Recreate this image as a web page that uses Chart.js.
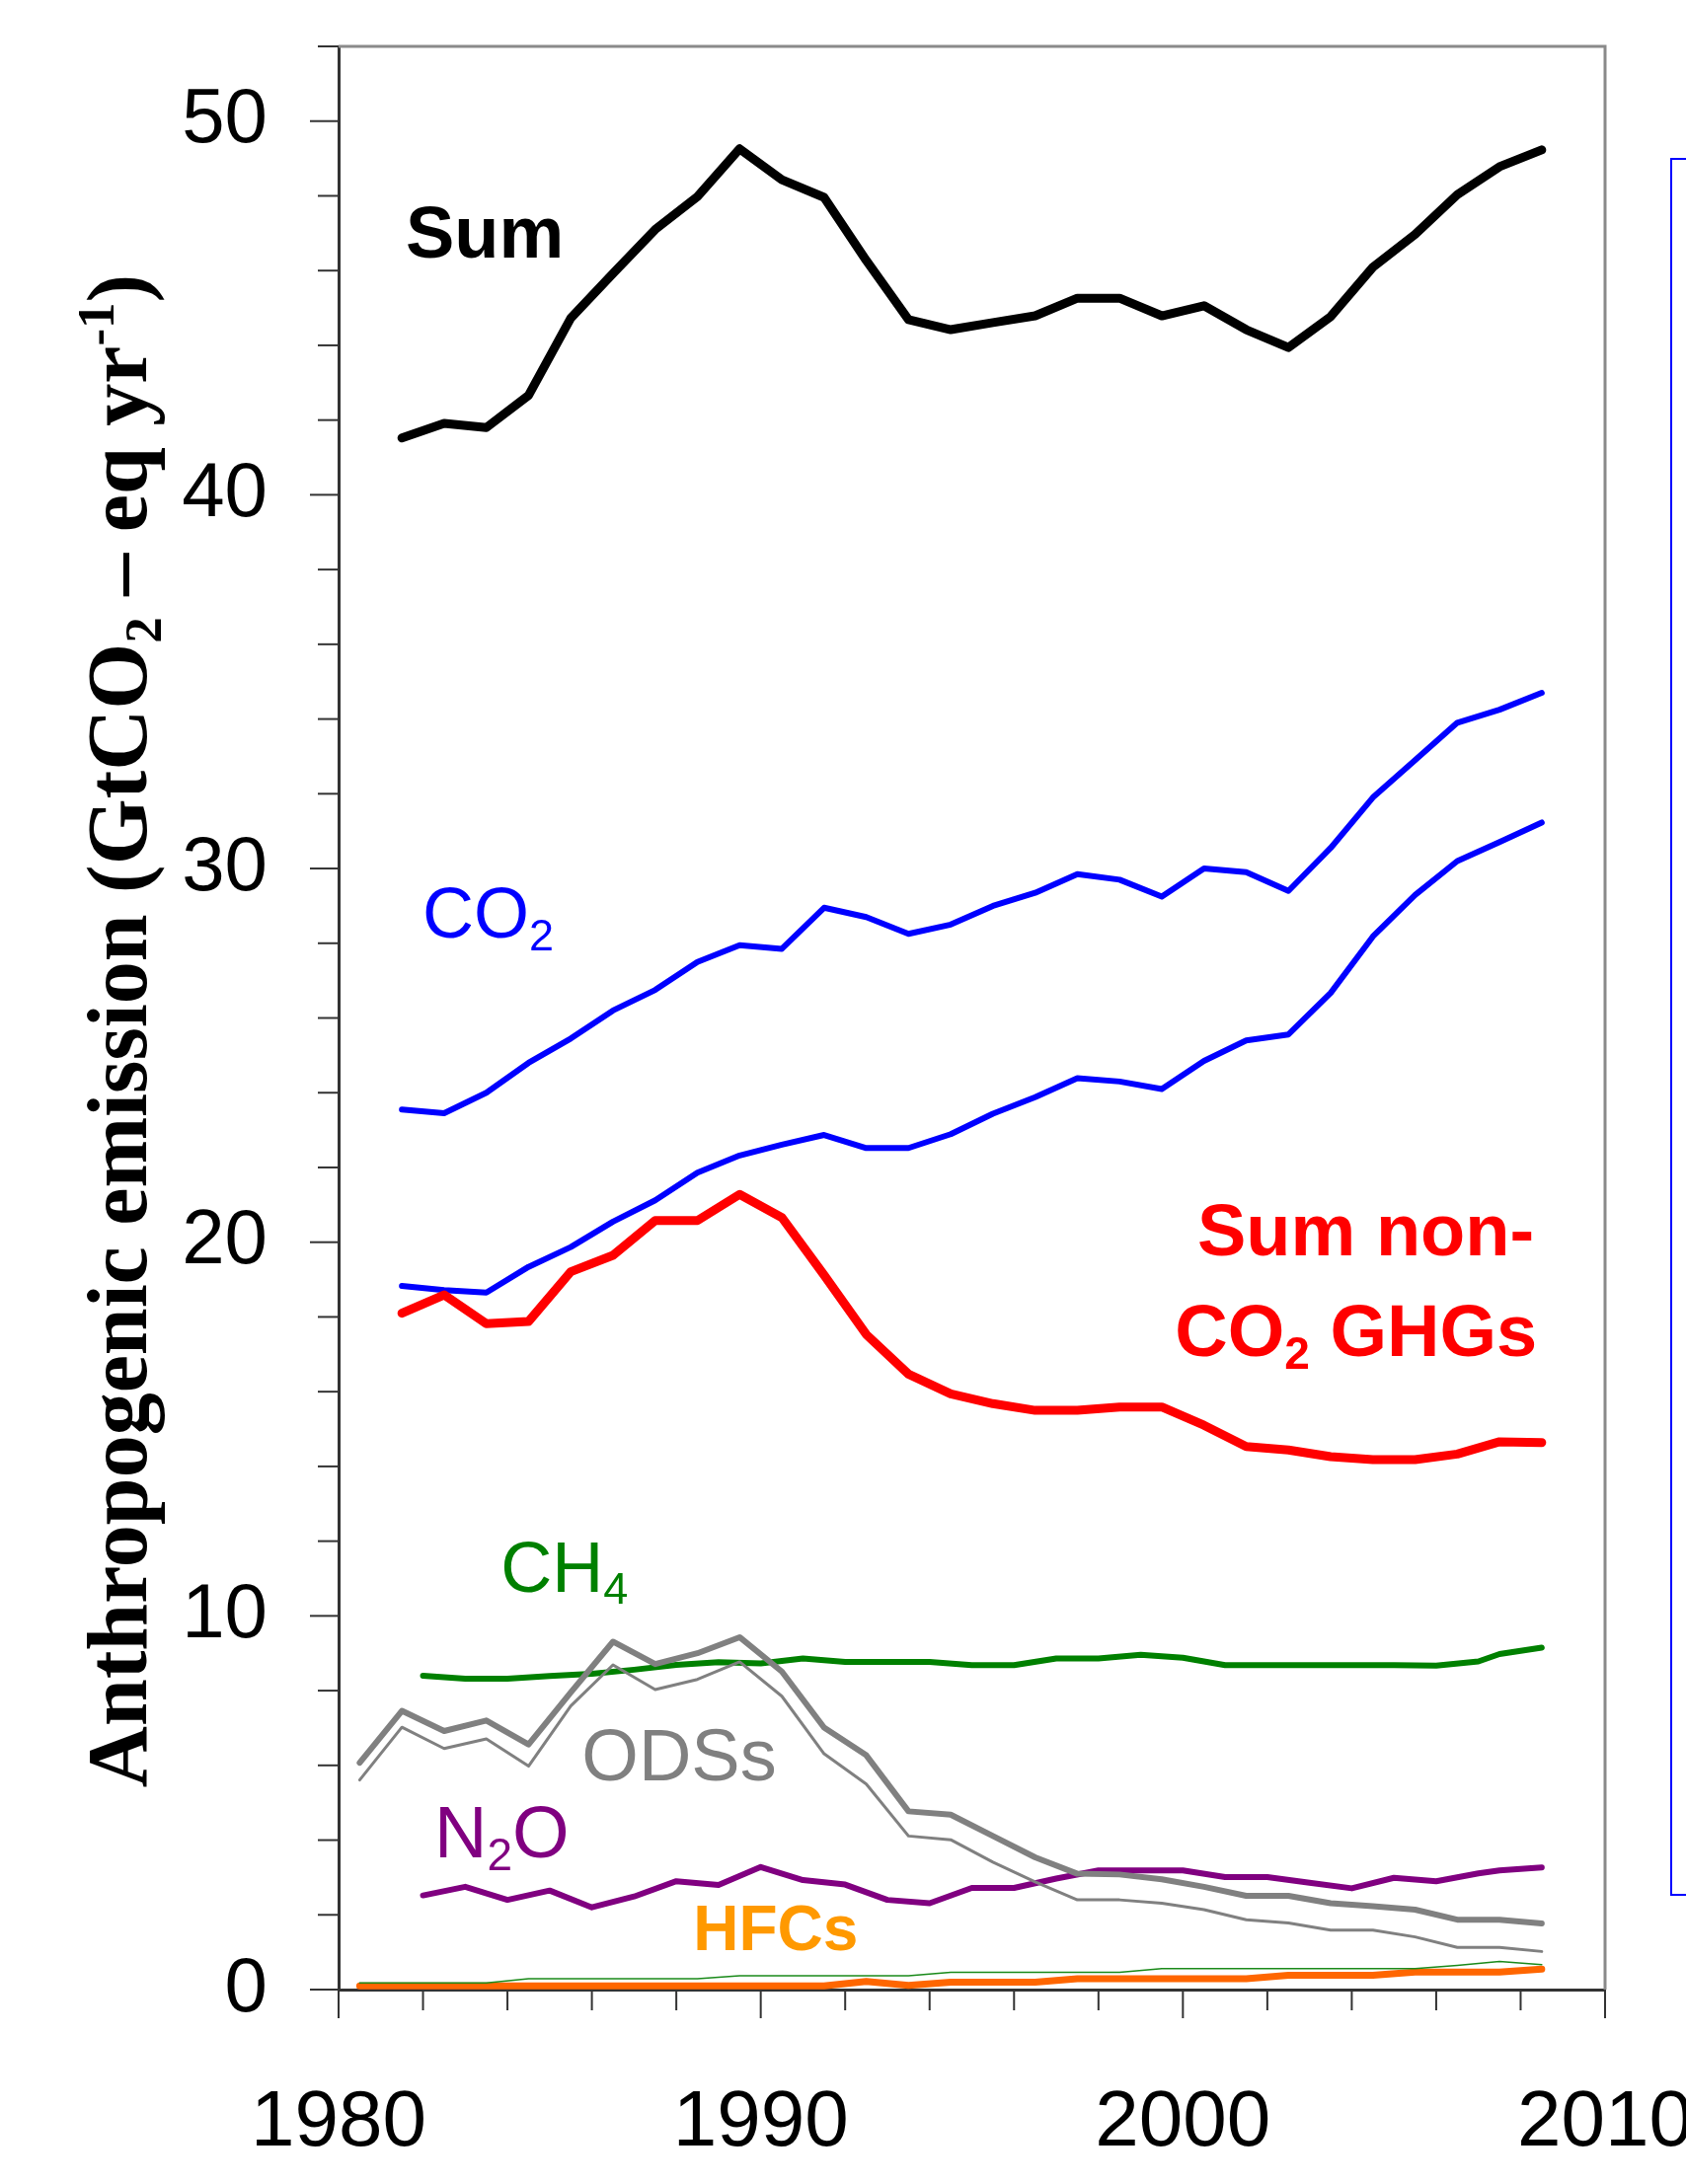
<!DOCTYPE html>
<html>
<head>
<meta charset="utf-8">
<title>Anthropogenic emission</title>
<script src="https://cdn.jsdelivr.net/npm/chart.js@4.4.1/dist/chart.umd.min.js"></script>
<style>
  html, body { margin: 0; padding: 0; background: #fff; }
  #wrap { position: relative; width: 1708px; height: 2213px; overflow: hidden; }
</style>
</head>
<body>
<div id="wrap"><canvas id="emissions" width="1708" height="2213"></canvas></div>
<script>
// x positions (years) of the three kinds of series
const halfYears = [1980.5, 1981.5, 1982.5, 1983.5, 1984.5, 1985.5, 1986.5, 1987.5, 1988.5, 1989.5,
                   1990.5, 1991.5, 1992.5, 1993.5, 1994.5, 1995.5, 1996.5, 1997.5, 1998.5, 1999.5,
                   2000.5, 2001.5, 2002.5, 2003.5, 2004.5, 2005.5, 2006.5, 2007.5, 2008.5];
const sumYears = [1981.5, 1982.5, 1983.5, 1984.5, 1985.5, 1986.5, 1987.5, 1988.5, 1989.5,
                  1990.5, 1991.5, 1992.5, 1993.5, 1994.5, 1995.5, 1996.5, 1997.5, 1998.5, 1999.5,
                  2000.5, 2001.5, 2002.5, 2003.5, 2004.5, 2005.5, 2006.5, 2007.5, 2008.5];
const ghgYears = [1982, 1983, 1984, 1985, 1986, 1987, 1988, 1989, 1990, 1991, 1992, 1993, 1994,
                  1995, 1996, 1997, 1998, 1999, 2000, 2001, 2002, 2003, 2004, 2005, 2006, 2007,
                  2007.5, 2008.5];

// GtCO2-eq per year
const sumTotal = [41.52, 41.91, 41.80, 42.66, 44.73, 45.92, 47.10, 47.98, 49.26, 48.43, 47.96, 46.27, 44.69, 44.42,
                  44.61, 44.79, 45.26, 45.26, 44.79, 45.06, 44.42, 43.94, 44.77, 46.09, 46.97, 48.03, 48.78, 49.23];
const co2Upper = [23.55, 23.45, 24.00, 24.80, 25.45, 26.20, 26.75, 27.50, 27.95, 27.85, 28.95, 28.70, 28.25, 28.50,
                  29.00, 29.35, 29.85, 29.70, 29.25, 30.00, 29.90, 29.40, 30.55, 31.90, 32.90, 33.90, 34.25, 34.70];
const co2Lower = [18.83, 18.72, 18.65, 19.34, 19.87, 20.55, 21.12, 21.86, 22.32, 22.61, 22.87, 22.52, 22.52, 22.89,
                  23.44, 23.88, 24.39, 24.30, 24.10, 24.85, 25.40, 25.56, 26.67, 28.18, 29.29, 30.20, 30.71, 31.23];
const nonCo2Sum = [18.10, 18.59, 17.82, 17.88, 19.21, 19.65, 20.58, 20.58, 21.28, 20.66, 19.12, 17.53, 16.47, 15.94,
                   15.68, 15.50, 15.50, 15.59, 15.59, 15.10, 14.53, 14.44, 14.26, 14.18, 14.18, 14.33, 14.66, 14.64];
const ch4 = [8.40, 8.32, 8.32, 8.39, 8.45, 8.56, 8.69, 8.76, 8.73, 8.86, 8.77, 8.77, 8.77, 8.68,
             8.68, 8.86, 8.86, 8.96, 8.88, 8.68, 8.68, 8.68, 8.68, 8.68, 8.67, 8.78, 8.98, 9.15];
const n2o = [2.52, 2.75, 2.40, 2.65, 2.20, 2.49, 2.90, 2.80, 3.28, 2.93, 2.81, 2.40, 2.31, 2.72,
             2.72, 2.97, 3.19, 3.19, 3.19, 3.01, 3.01, 2.86, 2.71, 2.99, 2.90, 3.11, 3.19, 3.27];
const odsThick = [6.07, 7.46, 6.92, 7.20, 6.56, 7.95, 9.31, 8.71, 9.00, 9.43, 8.51, 7.01, 6.27, 4.77, 4.68,
                  4.11, 3.54, 3.10, 3.08, 2.95, 2.75, 2.51, 2.51, 2.31, 2.23, 2.14, 1.87, 1.87, 1.77];
const odsThin = [5.61, 7.02, 6.45, 6.71, 5.98, 7.59, 8.69, 8.03, 8.30, 8.77, 7.85, 6.31, 5.50, 4.11, 4.01,
                 3.41, 2.88, 2.40, 2.40, 2.31, 2.14, 1.87, 1.78, 1.59, 1.59, 1.41, 1.13, 1.13, 1.02];
const hfcs = [0.10, 0.10, 0.10, 0.10, 0.10, 0.10, 0.10, 0.10, 0.10, 0.10, 0.10, 0.10, 0.22, 0.11, 0.20,
              0.20, 0.20, 0.29, 0.29, 0.29, 0.29, 0.29, 0.38, 0.38, 0.38, 0.47, 0.47, 0.47, 0.55];
const otherThin = [0.18, 0.18, 0.18, 0.18, 0.29, 0.29, 0.29, 0.29, 0.29, 0.37, 0.37, 0.37, 0.37, 0.37, 0.46,
                   0.46, 0.46, 0.46, 0.46, 0.56, 0.56, 0.56, 0.56, 0.56, 0.56, 0.56, 0.65, 0.75, 0.67];

const xTickLabels = [1980, 1990, 2000, 2010];
const yTickLabels = [0, 10, 20, 30, 40, 50];

function pts(xs, ys) {
    return xs.map((x, i) => ({ x: x, y: ys[i] }));
}

// text labels inside the plot, placed in data coordinates
const seriesLabels = [
    { parts: [['Sum']], x: 1981.59, y: 46.36, color: '#000000', bold: true, size: 74, align: 'left' },
    { parts: [['CO'], ['2', 'sub']], x: 1981.99, y: 28.14, color: '#0000ff', bold: false, size: 72, align: 'left' },
    { parts: [['Sum non-']], x: 2008.32, y: 19.64, color: '#ff0000', bold: true, size: 74, align: 'right' },
    { parts: [['CO'], ['2', 'sub'], [' GHGs']], x: 2008.39, y: 16.95, color: '#ff0000', bold: true, size: 74, align: 'right' },
    { parts: [['CH'], ['4', 'sub']], x: 1983.84, y: 10.64, color: '#008000', bold: false, size: 72, align: 'left' },
    { parts: [['ODSs']], x: 1985.76, y: 5.60, color: '#808080', bold: false, size: 74, align: 'left' },
    { parts: [['N'], ['2', 'sub'], ['O']], x: 1982.27, y: 3.54, color: '#800080', bold: false, size: 74, align: 'left' },
    { parts: [['HFCs']], x: 1988.40, y: 1.06, color: '#ff9900', bold: true, size: 64, align: 'left' }
];

function drawParts(ctx, parts, x, y, size, bold, family, align) {
    const small = Math.round(size * 0.62);
    const fontFor = (kind) => (bold ? 'bold ' : '') + (kind ? small : size) + 'px ' + family;
    let total = 0;
    parts.forEach(p => { ctx.font = fontFor(p[1]); total += ctx.measureText(p[0]).width; });
    let cx = x;
    if (align === 'right') cx = x - total;
    if (align === 'center') cx = x - total / 2;
    ctx.textAlign = 'left';
    ctx.textBaseline = 'alphabetic';
    parts.forEach(p => {
        ctx.font = fontFor(p[1]);
        let dy = 0;
        if (p[1] === 'sub') dy = size * 0.17;
        if (p[1] === 'sup') dy = -size * 0.38;
        ctx.fillText(p[0], cx, y + dy);
        cx += ctx.measureText(p[0]).width;
    });
}

const decorPlugin = {
    id: 'decor',
    afterDatasetsDraw(chart) {
        const ctx = chart.ctx;
        const xs = chart.scales.x, ys = chart.scales.y;
        ctx.save();
        seriesLabels.forEach(l => {
            ctx.fillStyle = l.color;
            drawParts(ctx, l.parts, xs.getPixelForValue(l.x), ys.getPixelForValue(l.y),
                      l.size, l.bold, "'Liberation Sans', Arial, sans-serif", l.align);
        });
        ctx.restore();
    },
    afterDraw(chart) {
        const ctx = chart.ctx;
        const a = chart.chartArea;
        const xs = chart.scales.x, ys = chart.scales.y;
        ctx.save();
        // gray frame on top and right
        ctx.strokeStyle = '#8a8a8a';
        ctx.lineWidth = 3;
        ctx.beginPath();
        ctx.moveTo(a.left, a.top);
        ctx.lineTo(a.right, a.top);
        ctx.lineTo(a.right, a.bottom);
        ctx.stroke();

        // tick marks, long at every 10
        ctx.strokeStyle = '#333333';
        ctx.lineWidth = 2;
        ys.ticks.forEach(t => {
            const py = ys.getPixelForValue(t.value);
            const len = t.value % 10 === 0 ? 29 : 21;
            ctx.beginPath(); ctx.moveTo(a.left - len, py); ctx.lineTo(a.left, py); ctx.stroke();
        });
        xs.ticks.forEach(t => {
            const px = xs.getPixelForValue(t.value);
            const len = t.value % 10 === 0 ? 29 : 21;
            ctx.beginPath(); ctx.moveTo(px, a.bottom); ctx.lineTo(px, a.bottom + len); ctx.stroke();
        });

        // y axis title with subscript / superscript
        ctx.fillStyle = '#000000';
        ctx.translate(148, (a.top + a.bottom) / 2 + 13);
        ctx.rotate(-Math.PI / 2);
        drawParts(ctx, [['Anthropogenic emission (GtCO'], ['2', 'sub'], [' \u2013 eq yr'], ['-1', 'sup'], [')']],
                  0, 0, 86, true, "'Liberation Serif', 'Times New Roman', serif", 'center');
        ctx.restore();

        // edge of the neighbouring panel
        ctx.save();
        ctx.strokeStyle = '#0000ff';
        ctx.lineWidth = 2;
        ctx.strokeRect(1693, 161, 200, 1759);
        ctx.restore();
    }
};

function line(label, data, color, width) {
    return {
        label: label,
        data: data,
        borderColor: color,
        backgroundColor: color,
        borderWidth: width,
        pointRadius: 0,
        tension: 0,
        fill: false,
        borderJoinStyle: 'round',
        borderCapStyle: 'round'
    };
}

function renderChart(canvasId) {
    Chart.defaults.font.family = "'Liberation Sans', Arial, sans-serif";
    const ctx = document.getElementById(canvasId).getContext('2d');
    new Chart(ctx, {
        type: 'line',
        data: {
            datasets: [
                line('Other', pts(halfYears, otherThin), '#1a8a1a', 1.5),
                line('HFCs', pts(halfYears, hfcs), '#ff6600', 7),
                line('ODSs (thin)', pts(halfYears, odsThin), '#808080', 3),
                line('ODSs', pts(halfYears, odsThick), '#808080', 6),
                line('N2O', pts(ghgYears, n2o), '#800080', 6),
                line('CH4', pts(ghgYears, ch4), '#008000', 6),
                line('Sum non-CO2 GHGs', pts(sumYears, nonCo2Sum), '#ff0000', 9),
                line('CO2 (lower)', pts(sumYears, co2Lower), '#0000ff', 6),
                line('CO2', pts(sumYears, co2Upper), '#0000ff', 6),
                line('Sum', pts(sumYears, sumTotal), '#000000', 9)
            ]
        },
        options: {
            responsive: false,
            animation: false,
            devicePixelRatio: 1,
            layout: {
                padding: { top: 47, right: 82, left: 0, bottom: 0 }
            },
            plugins: {
                legend: { display: false },
                tooltip: { enabled: false }
            },
            scales: {
                x: {
                    type: 'linear',
                    min: 1980,
                    max: 2010,
                    border: { display: true, color: '#333333', width: 3 },
                    grid: { drawOnChartArea: false, drawTicks: true, tickLength: 29, tickColor: 'rgba(0,0,0,0)' },
                    ticks: {
                        stepSize: 2,
                        autoSkip: false,
                        maxRotation: 0,
                        minRotation: 0,
                        padding: 59,
                        color: '#000000',
                        font: { size: 80, lineHeight: 1.2 },
                        callback: (v) => xTickLabels.includes(v) ? String(v) : ''
                    },
                    afterFit: (s) => { s.height = 197; s.paddingLeft = 0; s.paddingRight = 0; }
                },
                y: {
                    type: 'linear',
                    min: 0,
                    max: 52,
                    border: { display: true, color: '#333333', width: 3 },
                    grid: { drawOnChartArea: false, drawTicks: true, tickLength: 29, tickColor: 'rgba(0,0,0,0)' },
                    ticks: {
                        stepSize: 2,
                        autoSkip: false,
                        padding: 43,
                        color: '#000000',
                        font: { size: 78, lineHeight: 1.2 },
                        callback: (v) => yTickLabels.includes(v) ? String(v) : ''
                    },
                    afterFit: (s) => { s.width = 343; s.paddingTop = 0; s.paddingBottom = 0; }
                }
            }
        },
        plugins: [decorPlugin]
    });
}

renderChart('emissions');
</script>
</body>
</html>
